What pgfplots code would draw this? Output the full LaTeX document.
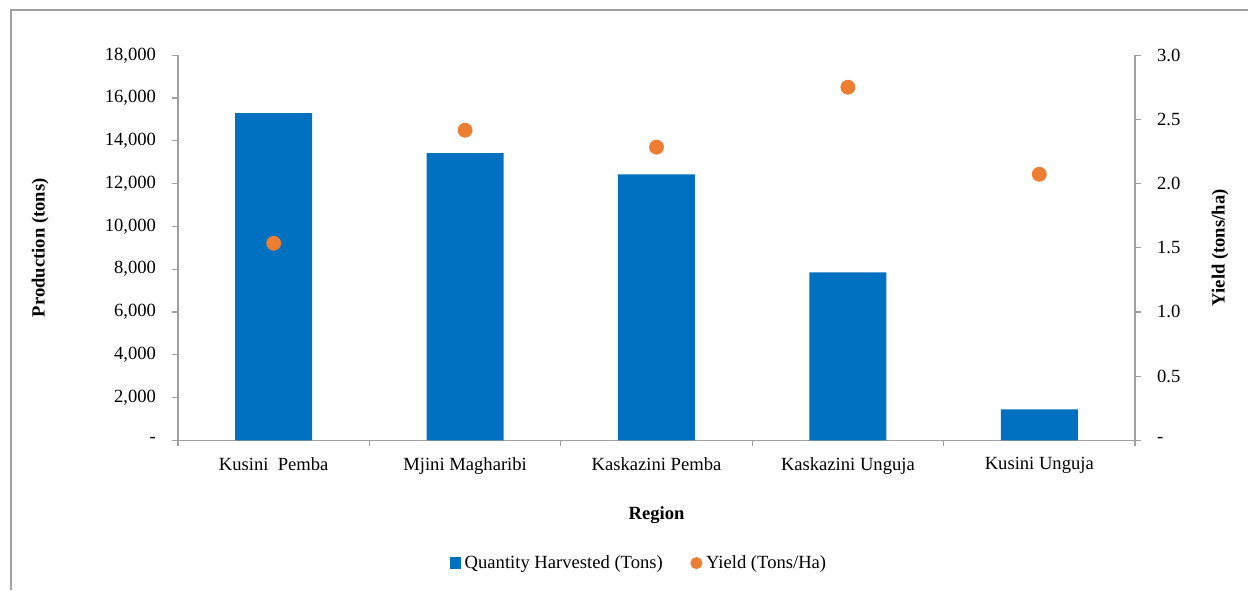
\documentclass[border=0pt]{standalone}
\usepackage{fontspec}
\setmainfont{Liberation Serif}
\usepackage{pgfplots}
\pgfplotsset{compat=1.18}
\definecolor{barblue}{RGB}{0,112,192}
\definecolor{dotorange}{RGB}{237,125,49}
\definecolor{axgray}{RGB}{160,160,160}

\pgfplotsset{
  common/.style={
    scale only axis, width=478.5pt, height=192.5pt,
    xmin=-0.5, xmax=4.5,
    axis x line*=bottom,
    axis line style={axgray, line width=0.7pt},
    tick style={axgray, line width=0.6pt},
    tick align=outside, major tick length=3pt,
    font=\fontsize{9.3}{11}\selectfont,
    scaled y ticks=false,
  },
}

\begin{document}
\begin{tikzpicture}[x=1pt,y=1pt]
\useasboundingbox (0,0) rectangle (624,295);
\draw[axgray, line width=0.6pt] (5.5,0) -- (5.5,290) -- (624,290);

% production bars
\begin{axis}[
  common, name=main,
  at={(93,70)}, anchor=south west,
  ymin=0, ymax=18000,
  axis y line*=left,
  xtick={-0.5,0.5,...,4.5}, xticklabels={,,,,,},
  extra x ticks={0,1,2,3,4},
  extra x tick labels={Kusini\ \ Pemba, Mjini Magharibi, Kaskazini Pemba,
                       Kaskazini Unguja, Kusini Unguja},
  extra x tick style={major tick length=0pt,
                      xticklabel style={yshift=-5pt}},
  ytick={0,2000,...,18000},
  yticklabels={-, {2,000}, {4,000}, {6,000}, {8,000}, {10,000},
               {12,000}, {14,000}, {16,000}, {18,000}},
  yticklabel style={xshift=-4.5pt},
  xlabel={\textbf{Region}},
  xlabel style={at={(axis description cs:0.5,-0.195)}, anchor=center},
  ylabel={\textbf{Production (tons)}},
  ylabel style={at={(axis description cs:-0.144,0.5)}, anchor=center},
  legend style={at={(0.483,-0.319)}, anchor=center, draw=none,
                font=\fontsize{9.3}{11}\selectfont,
                /tikz/every even column/.append style={column sep=12pt}},
  legend columns=2,
  legend cell align=left,
]
\addplot[ybar, bar width=38.5pt, fill=barblue, draw=none, forget plot] coordinates {
  (0,15290) (1,13420) (2,12430) (3,7850) (4,1450)
};
\addlegendimage{only marks, mark=square*, mark size=2.6pt, barblue}
\addlegendentry{Quantity Harvested (Tons)}
\addlegendimage{only marks, mark=*, mark size=2.8pt, dotorange}
\addlegendentry{Yield (Tons/Ha)}
\end{axis}

% yield points
\begin{axis}[
  common,
  at={(main.origin)}, anchor=origin,
  ymin=0, ymax=3,
  axis y line*=right,
  x axis line style={draw=none},
  xtick=\empty,
  ytick={0,0.5,...,3},
  yticklabels={-, 0.5, 1.0, 1.5, 2.0, 2.5, 3.0},
  yticklabel style={xshift=4.5pt},
  ylabel={\textbf{Yield (tons/ha)}},
  ylabel style={at={(axis description cs:1.089,0.5)}, anchor=center},
]
\addplot[only marks, mark=*, mark size=3.5pt, color=dotorange] coordinates {
  (0,1.535) (1,2.416) (2,2.284) (3,2.751) (4,2.073)
};
\end{axis}
\end{tikzpicture}
\end{document}
